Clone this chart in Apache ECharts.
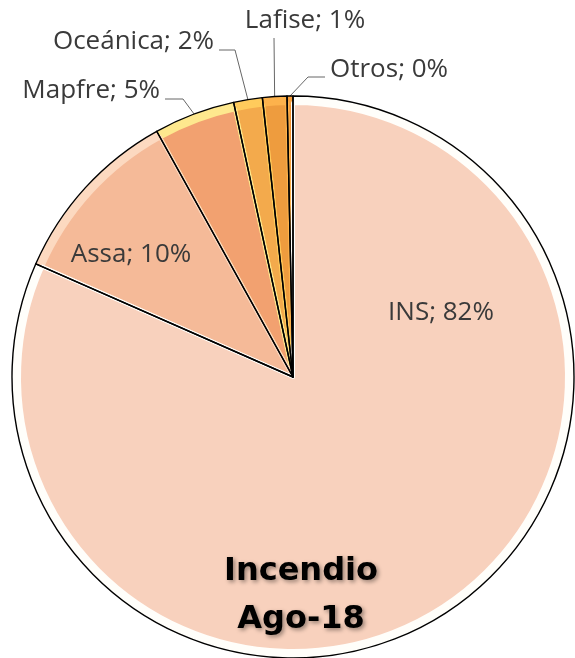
<!DOCTYPE html>
<html>
<head>
<meta charset="utf-8">
<script src="https://cdn.jsdelivr.net/npm/echarts@6/dist/echarts.min.js"></script>
<style>
  html, body { margin: 0; padding: 0; background: #fff; }
  #chart { width: 575px; height: 658px; }
</style>
</head>
<body>
<div id="chart"></div>
<script>
// datos
const companias = ['INS', 'Assa', 'Mapfre', 'Oceánica', 'Lafise', 'Otros'];
const participacion = [81.6, 10.34, 4.67, 1.65, 1.40, 0.34];
const colores = ['#F8D1BD', '#F5BA98', '#F2A170', '#F3AA4C', '#EE9C3E', '#F29332'];
const coloresBorde = ['#FFFEFA', '#FCD9C0', '#FEE88E', '#FFCB5C', '#FDB24C', '#F7A03E'];
const titulo = 'Incendio\nAgo-18';

// posicion de etiquetas
const posEtiqueta = {
    'INS': { x: 441, y: 313, align: 'center' },
    'Assa': { x: 131, y: 255, align: 'center' },
    'Mapfre': { x: 160, y: 91, align: 'right', linea: [[183, 99], [165, 99]] },
    'Oceánica': { x: 214, y: 42, align: 'right', linea: [[235, 50], [219, 50]] },
    'Lafise': { x: 305, y: 21, align: 'center', linea: [[274, 38]] },
    'Otros': { x: 330, y: 70, align: 'left', linea: [[308, 77], [325, 77]] }
};

const centro = [293, 377];
const radio = 281;

// se dibuja en sentido antihorario desde arriba, INS al final
const orden = companias.map((c, i) => i).reverse();

const datosFondo = orden.map(i => ({
    name: companias[i],
    value: participacion[i],
    itemStyle: { color: coloresBorde[i] }
}));

const datosRelleno = orden.map(i => ({
    name: companias[i],
    value: participacion[i],
    itemStyle: { color: colores[i], borderColor: coloresBorde[i] }
}));

const datosContorno = orden.map(i => ({
    name: companias[i],
    value: participacion[i],
    labelLine: { show: !!posEtiqueta[companias[i]].linea }
}));

const chart = echarts.init(document.getElementById('chart'));

const option = {
    animation: false,
    title: {
        text: titulo,
        left: 296,
        top: 543,
        textAlign: 'center',
        textStyle: {
            fontFamily: 'DejaVu Sans',
            fontWeight: 'bold',
            fontSize: 32,
            lineHeight: 48,
            color: '#000',
            textShadowColor: 'rgba(0,0,0,0.4)',
            textShadowBlur: 4,
            textShadowOffsetX: 2,
            textShadowOffsetY: 2
        }
    },
    series: [
        {
            name: 'fondo',
            type: 'pie',
            center: centro,
            radius: [0, radio],
            startAngle: 90,
            clockwise: false,
            silent: true,
            label: { show: false },
            labelLine: { show: false },
            data: datosFondo
        },
        {
            name: 'relleno',
            type: 'pie',
            center: centro,
            radius: [0, radio - 7],
            startAngle: 90,
            clockwise: false,
            silent: true,
            label: { show: false },
            labelLine: { show: false },
            itemStyle: { borderWidth: 4, borderJoin: 'round' },
            data: datosRelleno
        },
        {
            name: 'contorno',
            type: 'pie',
            center: centro,
            radius: [0, radio],
            startAngle: 90,
            clockwise: false,
            silent: true,
            avoidLabelOverlap: false,
            itemStyle: { color: 'rgba(0,0,0,0)', borderColor: '#000', borderWidth: 1.4 },
            label: {
                show: true,
                position: 'outside',
                fontFamily: 'Open Sans',
                fontSize: 26,
                color: '#3a3a3a',
                formatter: p => p.name + '; ' + Math.round(p.percent) + '%'
            },
            labelLine: {
                show: true,
                lineStyle: { color: '#666', width: 1 }
            },
            labelLayout: function (params) {
                const nombre = datosContorno[params.dataIndex].name;
                const pos = posEtiqueta[nombre];
                const res = {
                    x: pos.x,
                    y: pos.y,
                    align: pos.align,
                    verticalAlign: 'middle'
                };
                if (pos.linea && params.labelLinePoints) {
                    res.labelLinePoints = [params.labelLinePoints[0]].concat(pos.linea);
                }
                return res;
            },
            data: datosContorno
        }
    ]
};

chart.setOption(option);
</script>
</body>
</html>
